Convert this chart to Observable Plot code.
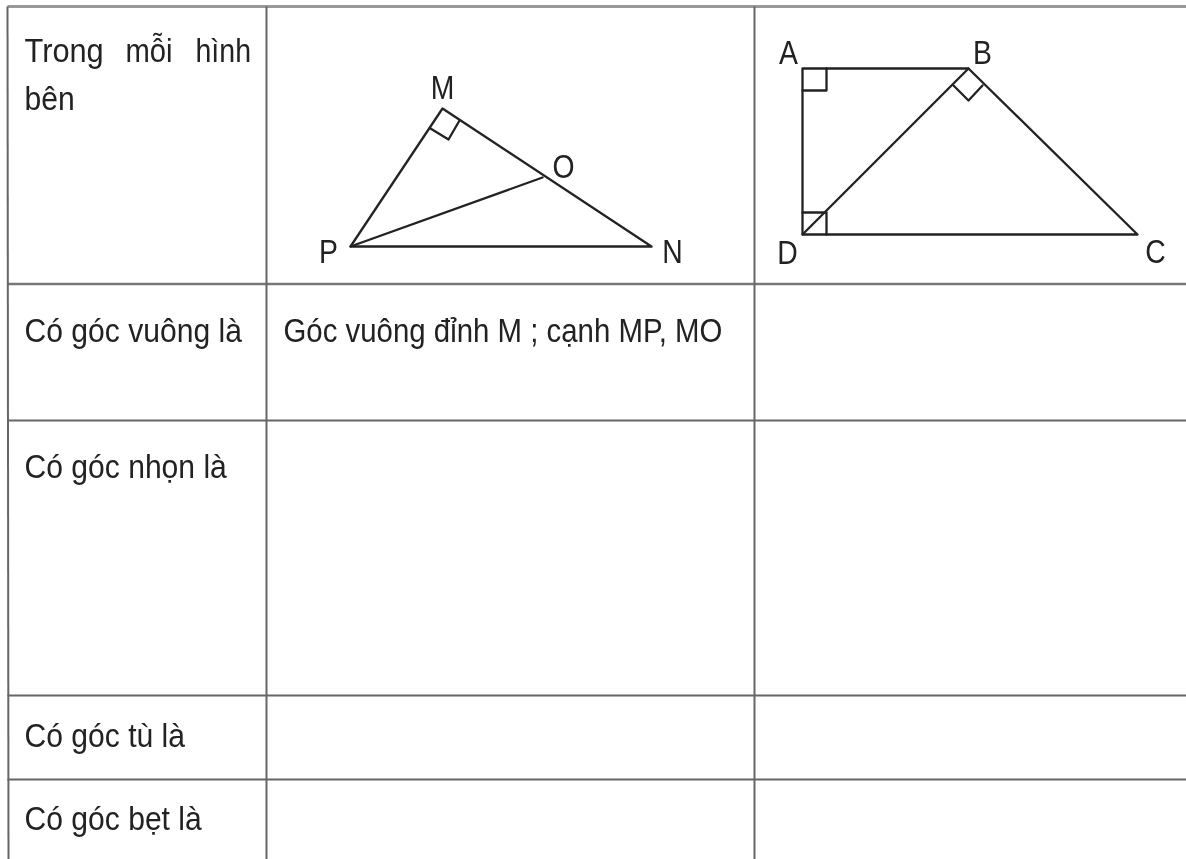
<!DOCTYPE html>
<html><head><meta charset="utf-8">
<style>html,body{margin:0;padding:0;background:#fff;overflow:hidden}svg{display:block;filter:blur(0.45px)}</style>
<script src="https://cdn.jsdelivr.net/npm/d3@7"></script>
<script src="https://cdn.jsdelivr.net/npm/@observablehq/plot@0.6"></script>
</head><body>
<script>
const gridH = [[6,6,3,"#999"],[283.5,283.5,2.5,"#777"],[420,420,2,"#666"],[695,695,2,"#666"],[779,779,2,"#666"]];
const gridV = [[7,8],[266,266],[754,754]];
const triangle = [["M",442,108],["N",651,246],["P",350,246],["M",442,108]];
const segPO = [["P",350,246],["O",542,177]];
const markM = [[430,128],[448,139],[459,120]];
const trapezoid = [["A",802,68],["B",968,68],["C",1137,234],["D",802,234],["A",802,68]];
const segBD = [["B",968,68],["D",802,234]];
const markA = [[802,90],[826,90],[826,68]];
const markB = [[953,85],[968,100],[982,85]];
const markD = [[802,212],[826,212],[826,234]];
const pointLabels = [["M",442,98],["O",563,177],["P",328,262],["N",672,262],["A",788,63],["B",982,63],["D",787,263],["C",1155,262]];
const rowLabels = [
  ["Trong",24,61],["mỗi",125,61],["hình",195,61],["bên",24,109],
  ["Có góc vuông là",24,341],["Góc vuông đỉnh M ; cạnh MP, MO",283,341],
  ["Có góc nhọn là",24,477],["Có góc tù là",24,746],["Có góc bẹt là",24,829]
];
const rowStretch = [.905,.86,.84,.885,.885,.865,.885,.885,.885];
const ink = "#222", rule = "#666";
const poly = (d, w=2.3) => Plot.line(d, {x:p=>p[p.length-2], y:p=>p[p.length-1], stroke:ink, strokeWidth:w, curve:"linear"});
const FONT = "'Liberation Sans',Arial,sans-serif";
const chart = Plot.plot({
  width:1186, height:859, margin:0, style:{background:"#fff"},
  x:{domain:[0,1186], range:[0,1186], axis:null},
  y:{domain:[0,859], range:[0,859], axis:null},
  marks:[
    ...gridH.map(([a,b,w,c])=>Plot.link([0],{x1:7,x2:1186,y1:a,y2:b,stroke:c,strokeWidth:w})),
    ...gridV.map(([a,b])=>Plot.link([0],{x1:a,x2:b,y1:6,y2:859,stroke:rule,strokeWidth:2})),
    poly(triangle), poly(segPO), poly(markM),
    poly(trapezoid), poly(segBD), poly(markA), poly(markB), poly(markD),
    Plot.text(pointLabels,{x:d=>d[1],y:d=>d[2],text:d=>d[0],fontSize:33,fontFamily:FONT,fill:ink,lineAnchor:"bottom",textAnchor:"middle"}),
    Plot.text(rowLabels,{x:d=>d[1],y:d=>d[2],text:d=>d[0],fontSize:34,fontFamily:FONT,fill:ink,lineAnchor:"bottom",textAnchor:"start"})
  ]
});
// the reference's lettering is condensed horizontally
const stretchOf = new Map(rowLabels.map((d,i)=>[d[0],rowStretch[i]]));
d3.select(chart).selectAll("text").filter(function(){return this.getAttribute("transform")})
  .attr("transform", function(){
    const s = stretchOf.get(this.textContent) ?? .86;
    return this.getAttribute("transform")+` scale(${s},1)`;
  });
document.body.append(chart);
</script>
</body></html>
